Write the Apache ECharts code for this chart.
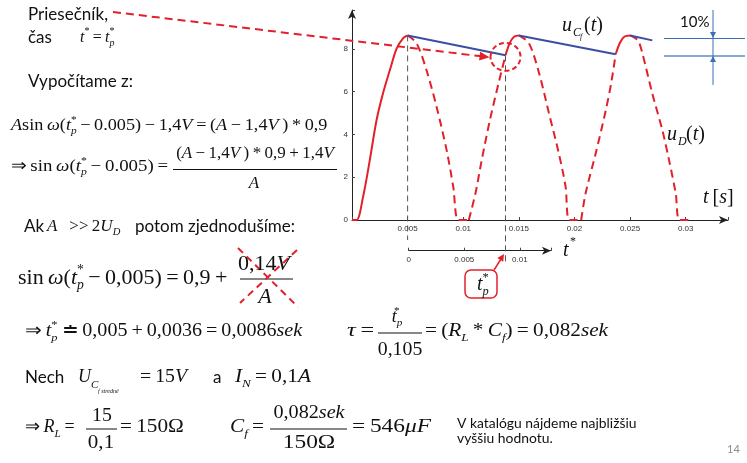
<!DOCTYPE html>
<html><head><meta charset="utf-8">
<script src="https://cdn.jsdelivr.net/npm/echarts@6/dist/echarts.min.js"></script>
<style>html,body{margin:0;padding:0;background:#fff}#c{width:747px;height:463px}</style>
</head><body><div id="c"></div>
<script>
// ---- data (t in s, u in V) ----
const riseT  = [0, 0.00042, 0.001, 0.0016, 0.0022, 0.0028, 0.0034, 0.004, 0.0046, 0.005];
const riseV  = [0, 0, 1.1, 2.8, 4.65, 5.95, 7.0, 8.0, 8.5, 8.63];
const peak2T = [0.0138, 0.0142, 0.0146, 0.015];
const peak2V = [7.7, 8.3, 8.58, 8.63];
const peak3T = [0.0237, 0.0241, 0.0245, 0.025];
const peak3V = [7.75, 8.3, 8.58, 8.63];
const fall1T = [0.005, 0.0058, 0.0067, 0.0076, 0.0085, 0.0091, 0.00956, 0.0105];
const fall1V = [8.63, 8.27, 7.0, 5.3, 3.28, 1.56, 0, 0];
const rise1T = [0.0105, 0.0111, 0.01166, 0.0124, 0.0132, 0.0138];
const rise1V = [0, 1.25, 2.8, 4.68, 6.45, 7.7];
const fall2T = [0.015, 0.0159, 0.0168, 0.0177, 0.0186, 0.0192, 0.01955, 0.0206];
const fall2V = [8.63, 8.27, 6.9, 5.0, 3.1, 1.56, 0, 0];
const rise2T = [0.0206, 0.021, 0.0219, 0.0228, 0.0233, 0.0237];
const rise2V = [0, 1.25, 3.1, 5.1, 6.4, 7.75];
const fall3T = [0.025, 0.0257, 0.0261, 0.027, 0.0279, 0.0285, 0.0291, 0.02945, 0.0305];
const fall3V = [8.63, 8.4, 7.8, 5.9, 4.2, 2.8, 1.25, 0, 0];
const uc1T = [0.005, 0.0138],  uc1V = [8.63, 7.7];
const uc2T = [0.015, 0.0237],  uc2V = [8.63, 7.75];
const uc3T = [0.025, 0.027],   uc3V = [8.63, 8.4];
const yTicks = [0, 2, 4, 6, 8];
const xTicks = [0.005, 0.01, 0.015, 0.02, 0.025, 0.03];
const tStarTicks = [0, 0.005, 0.01];
const tpStar = 0.0138;   // intersection time on main axis
const tpVal = 7.7;

const RED = '#e3202a', BLUE = '#3a4ea3', INK = '#111';
const SERIF = '"Liberation Serif","Times New Roman",serif';
const SANS = 'Lato,"Open Sans",sans-serif';

const zip = (ts, vs) => ts.map((t, i) => [t, vs[i]]);
const fmt = v => String(+v.toFixed(3));

const chart = echarts.init(document.getElementById('c'), null, {renderer: 'canvas'});

function seg(ts, vs, color, type, smooth) {
  return {type: 'line', xAxisIndex: 0, yAxisIndex: 0, data: zip(ts, vs), showSymbol: false,
    smooth: smooth ? 0.3 : false, clip: false, silent: true,
    lineStyle: {color: color, width: 2, type: type}, z: type === 'solid' ? 3 : 2};
}
const DASH = [8, 5];
const series = [
  seg(riseT, riseV, RED, 'solid', true),
  seg(peak2T, peak2V, RED, 'solid', true),
  seg(peak3T, peak3V, RED, 'solid', true),
  seg(fall1T, fall1V, RED, DASH, true),
  seg(rise1T, rise1V, RED, DASH, true),
  seg(fall2T, fall2V, RED, DASH, true),
  seg(rise2T, rise2V, RED, DASH, true),
  seg(fall3T, fall3V, RED, DASH, true),
  seg(uc1T, uc1V, BLUE, 'solid', false),
  seg(uc2T, uc2V, BLUE, 'solid', false),
  seg(uc3T, uc3V, BLUE, 'solid', false),
  {type: 'line', xAxisIndex: 1, yAxisIndex: 1, data: [], showSymbol: false}
];

const axisLine = {show: true, onZero: false, symbol: ['none', 'arrow'], symbolSize: [6, 9],
  lineStyle: {color: '#222', width: 1}};
const lbl = {fontSize: 8, color: '#333', fontFamily: '"Liberation Sans",Arial,sans-serif'};

chart.setOption({
  animation: false,
  backgroundColor: '#fff',
  grid: [
    {left: 352, top: 10, right: 19, bottom: 243},
    {left: 408.7, top: 249, width: 142.3, height: 1.7}
  ],
  xAxis: [
    {type: 'value', gridIndex: 0, min: 0, max: 0.0338, interval: 0.005,
     axisLine: axisLine, axisTick: {show: true, inside: true, length: 3, lineStyle: {color: '#444'}},
     splitLine: {show: false},
     axisLabel: Object.assign({margin: 5, formatter: v => xTicks.some(t => Math.abs(t - v) < 1e-6) ? fmt(v) : ''}, lbl)},
    {type: 'value', gridIndex: 1, min: 0, max: 0.0128, interval: 0.005, position: 'bottom',
     axisLine: axisLine, axisTick: {show: true, inside: true, length: 3, lineStyle: {color: '#444'}},
     splitLine: {show: false},
     axisLabel: Object.assign({margin: 5, formatter: v => tStarTicks.some(t => Math.abs(t - v) < 1e-6) ? fmt(v) : ''}, lbl)}
  ],
  yAxis: [
    {type: 'value', gridIndex: 0, min: 0, max: 9.82, interval: 2,
     axisLine: axisLine, axisTick: {show: true, inside: true, length: 3, lineStyle: {color: '#444'}},
     splitLine: {show: false},
     axisLabel: Object.assign({margin: 4, formatter: v => yTicks.indexOf(v) >= 0 ? String(v) : ''}, lbl)},
    {type: 'value', gridIndex: 1, min: 0, max: 1, show: false}
  ],
  series: series
});

// ---------- annotation helpers ----------
function R(s) {
  const sub = s * 0.62;
  return {
    i: {fontFamily: SERIF, fontStyle: 'italic', fontSize: s, lineHeight: s * 1.3},
    r: {fontFamily: SERIF, fontSize: s, lineHeight: s * 1.3},
    b: {fontFamily: SERIF, fontStyle: 'italic', fontSize: sub, lineHeight: sub, verticalAlign: 'bottom'},
    p: {fontFamily: SERIF, fontSize: sub, lineHeight: sub, verticalAlign: 'top'},
    z: {fontFamily: SERIF, fontSize: sub, lineHeight: sub, verticalAlign: 'top', width: 0}
  };
}
const G = [];
function math(x, y, text, s, align, sx) {
  G.push({type: 'text', z: 100, silent: true, x: x, y: y, scaleX: sx || 1,
    style: {x: 0, y: 0, text: text, rich: R(s),
    fontFamily: SERIF, fontSize: s, fill: INK, align: align || 'left', verticalAlign: 'middle'}});
}
function word(x, y, text, s, opt) {
  G.push({type: 'text', z: 100, silent: true, style: Object.assign({x: x, y: y, text: text,
    fontFamily: SANS, fontSize: s, fill: INK, align: 'left', verticalAlign: 'middle'}, opt || {})});
}
function plain(x, y, text, s, opt) {
  G.push({type: 'text', z: 100, silent: true, style: Object.assign({x: x, y: y, text: text,
    fontFamily: SERIF, fontSize: s, fill: INK, align: 'left', verticalAlign: 'middle'}, opt || {})});
}
function line(x1, y1, x2, y2, color, w, dash) {
  G.push({type: 'line', z: 90, silent: true, shape: {x1: x1, y1: y1, x2: x2, y2: y2},
    style: {stroke: color || INK, lineWidth: w || 1, lineDash: dash || null}});
}
function head(x1, y1, x2, y2, len, half, color) {
  const dx = x2 - x1, dy = y2 - y1, L = Math.hypot(dx, dy), ux = dx / L, uy = dy / L;
  const bx = x2 - ux * len, by = y2 - uy * len;
  G.push({type: 'polygon', z: 91, silent: true, shape: {points: [[x2, y2], [bx - uy * half, by + ux * half], [bx + uy * half, by - ux * half]]},
    style: {fill: color}});
}
const S = '\u2009';

// ---------- left-side texts ----------
word(28, 15, 'Priesečník,', 17);
word(28, 38, 'čas', 17);
math(80, 37, '{i|t}{p|*}{r|' + S + '=' + S + '}{i|t}{z|*}{b|p}', 17.5, 'left', 0.92);
word(28, 82, 'Vypočítame z:', 17);

math(11, 125.5, '{i|A}{r|sin' + S + '}{i|ω}{r|(}{i|t}{z|*}{b|p}{r|' + S + '−' + S + '0.005)' + S + '−' + S + '1,4}{i|V}{r|' + S + '=' + S + '(}{i|A}{r|' + S + '−' + S + '1,4}{i|V}{r|' + S + ')' + S + '*' + S + '0,9}', 17, 'left', 1.07);
math(11, 167, '{r|⇒' + S + 'sin' + S + '}{i|ω}{r|(}{i|t}{z|*}{b|p}{r|' + S + '−' + S + '0.005)' + S + '=}', 17, 'left', 1.11);
math(255, 154, '{r|(}{i|A}{r|' + S + '−' + S + '1,4}{i|V}{r|' + S + ')' + S + '*' + S + '0,9' + S + '+' + S + '1,4}{i|V}', 17, 'center');
line(173, 169.5, 337, 169.5);
math(254, 184, '{i|A}', 17, 'center');

word(24, 227, 'Ak', 17);
math(47, 227, '{i|A}{r|\u2002' + S + '>>' + S + '2}{i|U}{b|D}', 17);
word(135, 227, 'potom zjednodušíme:', 17);

math(18, 278, '{r|sin' + S + '}{i|ω}{r|(}{i|t}{z|*}{b|p}{r|' + S + '−' + S + '0,005)' + S + '=' + S + '0,9' + S + '+}', 22);
math(264, 264, '{r|0,14}{i|V}', 22, 'center');
line(240, 279, 293, 279);
math(265, 297, '{i|A}', 22, 'center');
line(238, 248, 298, 307, RED, 2, [7, 5]);
line(297, 250, 240, 303, RED, 2, [7, 5]);

math(25, 331.5, '{r|⇒' + S + '}{i|t}{z|*}{b|p}{r|' + S + '≐' + S + '0,005' + S + '+' + S + '0,0036' + S + '=' + S + '0,0086}{i|sek}', 18, 'left', 1.115);

math(347, 331.5, '{i|τ}{r|' + S + '=}', 18, 'left', 1.35);
math(397, 317, '{i|t}{z|*}{b|p}', 18, 'center');
line(378, 333, 422, 333);
math(400, 350, '{r|0,105}', 18, 'center', 1.1);
math(425, 331.5, '{r|=' + S + '(}{i|R}{b|L}{r|' + S + '*' + S + '}{i|C}{b|f}{r|)' + S + '=' + S + '0,082}{i|sek}', 18, 'left', 1.18);

word(25, 378, 'Nech', 17);
plain(78, 377.5, 'U', 18, {fontStyle: 'italic'});
plain(91, 385, 'C', 11, {fontStyle: 'italic'});
plain(98, 391, 'f stredné', 6, {fontStyle: 'italic'});
math(140, 377.5, '{r|=' + S + '15}{i|V}', 18, 'left', 1.1);
word(213, 378, 'a', 17);
math(235, 377.5, '{i|I}{b|N}{r|' + S + '=' + S + '0,1}{i|A}', 18, 'left', 1.18);

math(25, 427.5, '{r|⇒' + S + '}{i|R}{b|L}{r|' + S + '=}', 18);
math(102, 416, '{r|15}', 18, 'center', 1.1);
line(86, 429, 117, 429);
math(101, 443, '{r|0,1}', 18, 'center', 1.17);
math(120, 427.5, '{r|=' + S + '150Ω}', 18, 'left', 1.18);
math(230, 427.5, '{i|C}{b|f}{r|' + S + '=}', 18, 'left', 1.18);
math(309, 413, '{r|0,082}{i|sek}', 18, 'center', 1.12);
line(270, 429, 347, 429);
math(309, 443, '{r|150Ω}', 18, 'center', 1.3);
math(352, 427.5, '{r|=' + S + '546}{i|μF}', 18, 'left', 1.3);

word(457, 424, 'V katalógu nájdeme najbližšiu', 13.9);
word(457, 439, 'vyššiu hodnotu.', 13.9);
word(727, 449, '14', 11, {fill: '#8c8c8c'});

// ---------- chart annotations ----------
plain(562, 26, 'u', 20, {fontStyle: 'italic'});
plain(573, 33, 'C', 12, {fontStyle: 'italic'});
plain(580, 37, 'f', 8, {fontStyle: 'italic'});
math(584, 26, '{r|(}{i|t}{r|)}', 20);
plain(667, 135, 'u', 20, {fontStyle: 'italic'});
plain(678, 142, 'D', 12, {fontStyle: 'italic'});
math(686, 135, '{r|(}{i|t}{r|)}', 20);
math(703, 198, '{i|t}{r|' + S + '[}{i|s}{r|]}', 20);
math(563, 251, '{i|t}', 20);
plain(570, 242, '*', 12);

// 10% marker
word(680, 22, '10%', 15);
line(664, 38.5, 745, 38.5, '#3d6fb5', 1);
line(664, 56, 745, 56, '#86a9d6', 2);
line(713, 10, 713, 85, '#3d6fb5', 1);
head(713, 28, 713, 38, 6, 3, '#3d6fb5');
head(713, 66, 713, 56, 6, 3, '#3d6fb5');

// positions derived from data via the chart scales
const p5top = chart.convertToPixel({gridIndex: 0}, [0.005, 8.63]);
const ptop = chart.convertToPixel({gridIndex: 0}, [tpStar, tpVal]);
line(p5top[0], p5top[1], p5top[0], 240, '#555', 1, [6, 4]);
line(ptop[0], ptop[1], ptop[0], 263, '#555', 1, [6, 4]);

G.push({type: 'ellipse', z: 92, silent: true, shape: {cx: ptop[0], cy: ptop[1] + 1.5, rx: 15, ry: 14},
  style: {fill: 'none', stroke: RED, lineWidth: 2, lineDash: [5, 3]}});

const ax2 = ptop[0] - 16, ay2 = ptop[1] + 2;
line(113, 12, ax2 - 8, ay2 - 1, RED, 2, [8, 5]);
head(113, 12, ax2, ay2, 10, 4.5, RED);

G.push({type: 'rect', z: 92, silent: true, shape: {x: 465, y: 270, width: 32, height: 28, r: 6},
  style: {fill: '#fff', stroke: RED, lineWidth: 1.5}});
math(477, 285, '{i|t}{z|*}{b|p}', 20);
line(494, 270, 501, 259, RED, 1.5);
head(494, 270, 504, 254, 7, 3.5, RED);

chart.setOption({graphic: G});
</script>
</body></html>
